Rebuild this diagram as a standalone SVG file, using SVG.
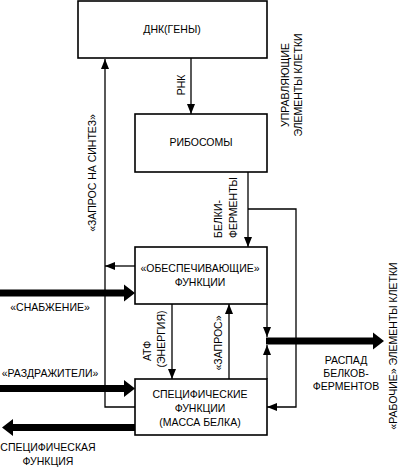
<svg xmlns="http://www.w3.org/2000/svg" width="406" height="468" viewBox="0 0 406 468">
<style>
.box{fill:#fff;stroke:#000;stroke-width:1.6}
.ln{fill:none;stroke:#000;stroke-width:1.3}
.thick{fill:#000;stroke:none}
text{font-family:"Liberation Sans",Arial,sans-serif;font-size:10.5px;fill:#000}
.c{text-anchor:middle}
</style>
<defs>
<marker id="ah" viewBox="0 0 10 8" refX="10" refY="4" markerWidth="10" markerHeight="8" markerUnits="userSpaceOnUse" orient="auto">
<path d="M0,0 L10,4 L0,8 Z" fill="#000"/>
</marker>
</defs>
<rect width="406" height="468" fill="#fff"/>
<g id="connectors">
<line class="ln" x1="191" y1="58" x2="191" y2="114" marker-end="url(#ah)"/>
<line class="ln" x1="248" y1="172" x2="248" y2="247" marker-end="url(#ah)"/>
<polyline class="ln" points="248,209 296,209 296,407 267,407" marker-end="url(#ah)"/>
<polyline class="ln" points="135,407 105,407 105,59" marker-end="url(#ah)"/>
<line class="ln" x1="135" y1="266" x2="105" y2="266" marker-end="url(#ah)"/>
<line class="ln" x1="172" y1="304" x2="172" y2="379" marker-end="url(#ah)"/>
<line class="ln" x1="229" y1="379" x2="229" y2="304" marker-end="url(#ah)"/>
<line class="ln" x1="267" y1="304" x2="267" y2="337" marker-end="url(#ah)"/>
<line class="ln" x1="267" y1="379" x2="267" y2="345" marker-end="url(#ah)"/>
<polygon class="thick" points="0,289.5 124,289.5 124,284.5 135,293 124,301.5 124,296.5 0,296.5"/>
<polygon class="thick" points="0,385 124,385 124,380 135,388.5 124,397 124,392 0,392"/>
<polygon class="thick" points="135,424 13,424 13,419 2,427.5 13,436 13,431 135,431"/>
<polygon class="thick" points="266,337.5 373,337.5 373,332.5 384,341 373,349.5 373,344.5 266,344.5"/>
</g>
<g id="dna">
<rect class="box" x="78" y="1" width="189" height="57"/>
<text class="c" x="172" y="33">ДНК(ГЕНЫ)</text>
</g>
<g id="ribosomes">
<rect class="box" x="135" y="114" width="132" height="58"/>
<text class="c" x="201" y="146">РИБОСОМЫ</text>
</g>
<g id="supply-functions">
<rect class="box" x="135" y="247" width="132" height="57"/>
<text class="c" x="200" y="272">«ОБЕСПЕЧИВАЮЩИЕ»</text>
<text class="c" x="200" y="286">ФУНКЦИИ</text>
</g>
<g id="specific-functions">
<rect class="box" x="135" y="379" width="132" height="56"/>
<text class="c" x="200" y="398">СПЕЦИФИЧЕСКИЕ</text>
<text class="c" x="200" y="412">ФУНКЦИИ</text>
<text class="c" x="200" y="426">(МАССА БЕЛКА)</text>
</g>
<g id="labels">
<text class="c" transform="translate(185,85) rotate(-90)">РНК</text>
<text class="c" transform="translate(289,85) rotate(-90)">УПРАВЛЯЮЩИЕ</text>
<text class="c" transform="translate(302,85) rotate(-90)">ЭЛЕМЕНТЫ КЛЕТКИ</text>
<text class="c" transform="translate(96,173) rotate(-90)">«ЗАПРОС НА СИНТЕЗ»</text>
<text transform="translate(222,238) rotate(-90)">БЕЛКИ-</text>
<text transform="translate(237,238) rotate(-90)">ФЕРМЕНТЫ</text>
<text class="c" transform="translate(151,351) rotate(-90)">АТФ</text>
<text class="c" transform="translate(165,339) rotate(-90)">(ЭНЕРГИЯ)</text>
<text class="c" transform="translate(222,343) rotate(-90)">«ЗАПРОС»</text>
<text class="c" transform="translate(397,346) rotate(-90)">«РАБОЧИЕ» ЭЛЕМЕНТЫ КЛЕТКИ</text>
<text class="c" x="50" y="311">«СНАБЖЕНИЕ»</text>
<text class="c" x="50" y="377">«РАЗДРАЖИТЕЛИ»</text>
<text class="c" x="48" y="451">СПЕЦИФИЧЕСКАЯ</text>
<text class="c" x="48" y="465">ФУНКЦИЯ</text>
<text class="c" x="346" y="364">РАСПАД</text>
<text class="c" x="346" y="377">БЕЛКОВ-</text>
<text class="c" x="346" y="390">ФЕРМЕНТОВ</text>
</g>
</svg>
